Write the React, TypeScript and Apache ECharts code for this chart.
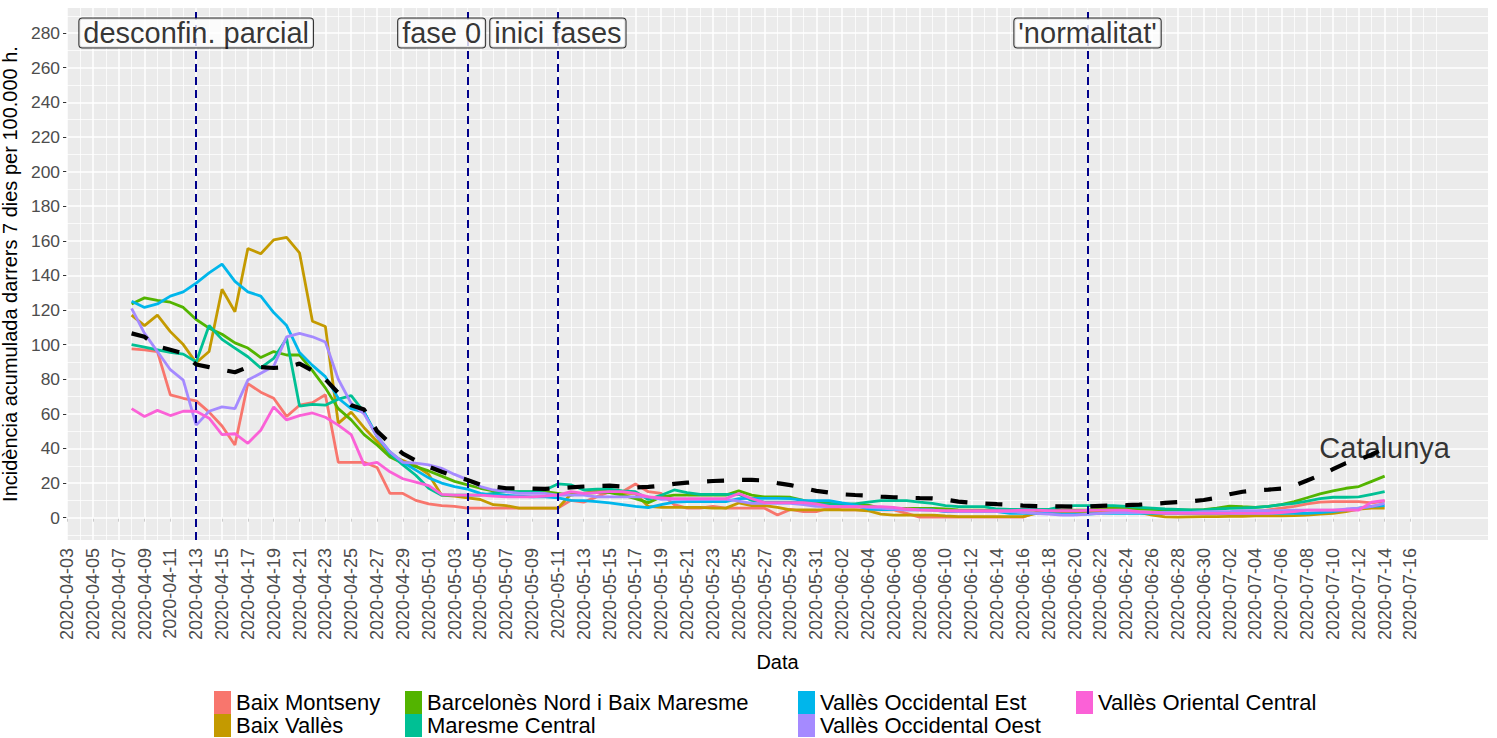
import React, { useEffect, useRef } from 'react';
import * as echarts from 'echarts';

const FONT = "'Liberation Sans', Arial, Helvetica, sans-serif";

// x axis: daily categories from 2020-04-03 to 2020-07-22 (panel range)
const AXIS_START = '2020-04-03';
const AXIS_DAYS = 111;
const DATA_START = '2020-04-08';
const LAST_LABEL_DATE = '2020-07-16';

function makeDates(start: string, n: number): string[] {
  const [y, m, d] = start.split('-').map(Number);
  const out: string[] = [];
  for (let i = 0; i < n; i++) {
    out.push(new Date(Date.UTC(y, m - 1, d + i)).toISOString().slice(0, 10));
  }
  return out;
}
const axisDates = makeDates(AXIS_START, AXIS_DAYS);

const seriesNames = [
  'Baix Montseny',
  'Baix Vallès',
  'Barcelonès Nord i Baix Maresme',
  'Maresme Central',
  'Vallès Occidental Est',
  'Vallès Occidental Oest',
  'Vallès Oriental Central',
];
const seriesColors = ['#F8766D', '#C49A00', '#53B400', '#00C094', '#00B6EB', '#A58AFF', '#FB61D7'];

// values from 2020-04-08 to 2020-07-14 (98 days)
const baixMontseny = [
  97.5, 97, 96, 71, 69, 67.5, 61, 53, 42, 77.5,
  72.5, 69, 58.5, 65, 66.5, 71, 32, 32, 32, 29,
  14, 14, 10, 8, 7, 6.5, 5.5, 5.5, 5.5, 5.5,
  5.5, 5.5, 5.5, 5.5, 10, 9, 12, 15, 15, 19.5,
  15, 14, 7.5, 5.5, 5.5, 6.5, 5.5, 5.5, 5.5, 5.5,
  1.5, 4.8, 3.5, 3.5, 5.5, 4.5, 4.5, 4.5, 4.5, 4.5,
  2.5, 0.3, 0.3, 0.3, 0.3, 0.3, 0.3, 0.3, 0.3, 0.3,
  3, 3, 3, 3, 3, 3.2, 3.5, 3.5, 3, 2.5,
  2.5, 2.5, 2.5, 2.5, 2.5, 3, 3, 3.5, 4.5, 5.5,
  6.5, 8, 9, 9.3, 9.3, 9.3, 8.5, 9.5,
];
const baixValles = [
  117, 111, 117, 107.5, 100, 89.5, 96, 132, 119, 155.5,
  152.5, 160.5, 162, 153, 113.5, 110.5, 54.5, 61, 52, 44,
  36, 33, 30, 25, 13, 12.5, 11.5, 10.5, 7.5, 7,
  5.5, 5.5, 5.5, 5.5, 13.5, 14, 15.5, 16.5, 14, 14,
  6.5, 6, 6, 6, 6, 5.5, 5.5, 8.5, 7, 7,
  6, 4.5, 4.5, 4.5, 4.5, 4.5, 4.5, 4, 2, 1.5,
  1.5, 1.5, 1.5, 1, 0.6, 0.6, 0.6, 0.6, 0.6, 0.6,
  2.5, 3, 3, 3, 3, 3, 3, 3, 3, 1.5,
  0.5, 0.3, 0.5, 0.6, 0.6, 0.8, 0.8, 1, 1, 1,
  1.2, 1.5, 2, 2.5, 3.5, 5, 5.5, 5.5,
];
const barcelonesNord = [
  123.5, 127, 125.5, 124.5, 121.5, 114.5, 109.5, 106, 101, 98,
  92.5, 96, 94, 94, 85, 75, 63, 56.5, 48, 42,
  35, 31.5, 29.5, 27, 24, 21, 19, 17, 15.5, 15,
  15, 15, 15, 14, 13, 14, 14.5, 14.5, 13, 11,
  8.7, 12, 13, 13, 13, 13, 13, 15.5, 13, 12,
  12, 11.8, 10, 8.5, 8.3, 7.5, 7.3, 7.3, 5.5, 5.4,
  5.4, 5.4, 5.4, 5, 4.5, 4.4, 4.4, 4.4, 4.4, 4.4,
  4.4, 4.4, 4.4, 4.4, 4.4, 5, 5.5, 5.5, 5, 4.8,
  4.5, 4.5, 4.4, 4.6, 5.5, 6.7, 6.3, 6, 6.5, 7.5,
  9.3, 11.5, 13.7, 15.5, 17, 18, 21, 24,
];
const maresmeCentral = [
  100, 98.5, 97, 95.5, 94.5, 90, 111, 103, 98, 93,
  86.5, 92, 103.5, 64.5, 65.5, 65, 68.5, 70.5, 61, 47,
  37, 30.5, 24.5, 17, 13, 13, 13, 13, 14, 15,
  15, 15, 16, 19.5, 19, 16, 16.5, 16.5, 15.5, 15,
  10.5, 13, 16, 14.5, 13.5, 13.5, 13.5, 13.5, 10, 9,
  9, 9, 8.5, 8, 8, 8, 8, 9, 9.8, 9.8,
  9.8, 9, 8.3, 7, 6.4, 6.4, 6.4, 5, 4.8, 4.8,
  4.8, 4.8, 6.4, 7, 7, 7, 7, 6.5, 6, 5.5,
  5, 4.8, 4.5, 4.5, 5, 5.4, 5.6, 6, 6.5, 7.5,
  8.3, 9.5, 11, 11.8, 11.8, 12, 13.5, 15,
];
const vallesOccEst = [
  125, 121.5, 123.5, 128, 130.5, 135.5, 141.5, 146.5, 136.5, 130.5,
  128, 118.5, 111, 95.5, 88, 81.5, 69, 63, 61, 47,
  38, 32, 27.5, 23, 20, 18, 16.5, 14, 13, 13,
  12.5, 12, 12, 11.5, 10, 9.8, 9.3, 8.5, 7.5, 6.5,
  5.8, 7.5, 9, 9.3, 9.3, 9.3, 9.3, 11, 11.2, 11.2,
  11.2, 11, 10, 9.8, 9.8, 8.5, 7.3, 5, 4.6, 4.6,
  4.6, 4.6, 4.5, 3.5, 3.5, 3.5, 3.5, 3.5, 2.5, 2.5,
  2.5, 2.5, 2, 2, 2, 2.5, 2.5, 2.5, 2.5, 2.5,
  2.5, 2.5, 2.5, 2.5, 2.5, 2.5, 2.5, 2.5, 2.5, 2.5,
  2.5, 2.5, 3, 3.5, 4.5, 5.5, 6.5, 7,
];
const vallesOccOest = [
  121, 106.5, 96, 85.5, 79.5, 53.5, 61.5, 64, 63, 79.5,
  83.5, 87.5, 104.5, 106.5, 104.5, 101.5, 80, 66, 60, 47,
  38, 32, 31.5, 30.5, 28.5, 25, 22, 18, 16, 15,
  14, 14, 14, 13, 13, 13, 12, 12, 12, 12,
  12, 10.6, 10.6, 10.6, 10.6, 10.6, 10.6, 9.5, 8.3, 8.3,
  8.3, 8.3, 7.5, 6.5, 6.4, 6.4, 6.4, 6, 5.5, 5,
  4.4, 4.4, 4.4, 3.8, 3.5, 3.5, 3.5, 3.5, 3.5, 3,
  2.5, 2, 1.5, 1.5, 2, 2.5, 3, 3, 3, 3,
  3, 3, 3, 3.5, 3.5, 3.5, 4, 4, 4, 4,
  4.4, 4.4, 4.4, 4.4, 5, 5.5, 6.5, 8.3,
];
const vallesOrCentral = [
  63, 58.5, 62, 59, 61.5, 61.5, 57.5, 48, 48.5, 43,
  50.5, 64, 56.5, 59, 60.5, 58, 53.5, 48, 30.5, 32,
  26.5, 22.5, 20.5, 18.5, 13.5, 13, 13, 13, 12.5, 12,
  12, 12, 12.5, 13, 15, 14, 14.5, 15, 15, 14,
  12, 11.5, 11, 11, 11, 11, 11, 14, 11, 8.7,
  8.7, 8.7, 8.7, 8, 6.5, 6.4, 6.4, 6.4, 6.4, 6,
  5, 4.5, 4.2, 4, 4, 4, 4, 4, 4, 4.4,
  4.4, 4, 4, 4, 4.2, 4.4, 4.4, 4.4, 3.5, 3,
  2.5, 2.5, 2.5, 2.5, 2.5, 2.5, 2.5, 2.5, 2.5, 3,
  3.5, 4.4, 4.4, 4.4, 4.4, 4.4, 9, 10,
];
const catalunya = [
  106.5, 104.5, 99, 97, 95, 88.5, 87, 85.5, 84, 87,
  87, 86.5, 87, 89, 85, 80, 72, 65, 62.5, 50,
  43, 37, 33, 29.5, 26.5, 24, 21.8, 19, 18, 17,
  17, 16.8, 16.6, 17, 17.5, 18, 18.3, 18.5, 18, 17.5,
  17.8, 18.5, 19.5, 20.2, 20.8, 21.2, 21.5, 21.8, 21.8, 21.5,
  20, 18.8, 17.2, 15.5, 14.5, 13.5, 13.1, 12.8, 12.2, 11.8,
  11.5, 11.3, 11.1, 10.5, 9.3, 8.7, 8.2, 7.8, 7.5, 7,
  6.7, 6.6, 6.5, 6.4, 6.5, 6.8, 7, 7.2, 7.5, 8,
  8.5, 9, 9.5, 10.2, 11.5, 13.5, 15, 15.8, 16.2, 16.8,
  18.5, 21.5, 24.5, 28, 31.5, 33.5, 36.5, 40,
];
const regionValues = [
  baixMontseny, baixValles, barcelonesNord, maresmeCentral,
  vallesOccEst, vallesOccOest, vallesOrCentral,
];

const yTickValues = [0, 20, 40, 60, 80, 100, 120, 140, 160, 180, 200, 220, 240, 260, 280];
const yMinorValues = [-10, 10, 30, 50, 70, 90, 110, 130, 150, 170, 190, 210, 230, 250, 270, 290];

const eventDates = ['2020-04-13', '2020-05-04', '2020-05-11', '2020-06-21'];
const labelDates = ['2020-04-13', '2020-05-02', '2020-05-11', '2020-06-21'];
const labelTexts = ['desconfin. parcial', 'fase 0', 'inici fases', "'normalitat'"];
const labelLevel = 280;
const catalunyaLabel = { date: '2020-07-14', value: 40, text: 'Catalunya' };

const legendColumns = [
  ['Baix Montseny', 'Baix Vallès'],
  ['Barcelonès Nord i Baix Maresme', 'Maresme Central'],
  ['Vallès Occidental Est', 'Vallès Occidental Oest'],
  ['Vallès Oriental Central'],
];
const legendLefts = [214, 405, 798, 1076];

function buildOption() {
  const dataStartIdx = axisDates.indexOf(DATA_START);
  const lastLabelIdx = axisDates.indexOf(LAST_LABEL_DATE);
  const toPairs = (vals: number[]) => vals.map((v, i) => [axisDates[dataStartIdx + i], v]);
  const isMajor = (i: number) => i % 2 === 0 && i <= lastLabelIdx;

  const gridLines: any[] = [];
  yTickValues.forEach((v) => gridLines.push({ yAxis: v, lineStyle: { width: 1.5 } }));
  yMinorValues.forEach((v) => gridLines.push({ yAxis: v, lineStyle: { width: 0.75 } }));
  axisDates.forEach((d, i) => {
    if (i > lastLabelIdx + 2) return;
    gridLines.push({ xAxis: d, lineStyle: { width: isMajor(i) ? 1.5 : 0.75 } });
  });

  const series: any[] = [
    {
      type: 'line',
      name: '__grid',
      data: [],
      z: 1,
      silent: true,
      markLine: {
        z: 1,
        silent: true,
        symbol: ['none', 'none'],
        label: { show: false },
        emphasis: { disabled: true },
        lineStyle: { color: '#FFFFFF', type: 'solid' },
        data: gridLines,
      },
    },
  ];

  regionValues.forEach((vals, k) => {
    series.push({
      type: 'line',
      name: seriesNames[k],
      data: toPairs(vals),
      z: 2,
      symbol: 'none',
      showSymbol: false,
      silent: true,
      color: seriesColors[k],
      itemStyle: { color: seriesColors[k] },
      lineStyle: { color: seriesColors[k], width: 2.8 },
      emphasis: { disabled: true },
    });
  });

  series.push({
    type: 'line',
    name: '__events',
    data: [],
    z: 3,
    silent: true,
    markLine: {
      z: 3,
      silent: true,
      symbol: ['none', 'none'],
      label: { show: false },
      emphasis: { disabled: true },
      lineStyle: { color: '#00008B', width: 2, type: [8, 5] },
      data: eventDates.map((d) => ({ xAxis: d })),
    },
  });

  series.push({
    type: 'line',
    name: 'Catalunya',
    data: toPairs(catalunya),
    z: 4,
    symbol: 'none',
    showSymbol: false,
    silent: true,
    lineStyle: { color: '#000000', width: 4.2, type: [17, 18] },
    emphasis: { disabled: true },
  });

  series.push({
    type: 'scatter',
    name: '__labels',
    z: 6,
    silent: true,
    symbol: 'rect',
    symbolSize: 1,
    itemStyle: { color: 'rgba(0,0,0,0)' },
    emphasis: { disabled: true },
    label: {
      show: true,
      position: 'inside',
      fontFamily: FONT,
      fontSize: 29,
      color: '#000000',
      backgroundColor: '#FFFFFF',
      borderColor: '#000000',
      borderWidth: 1,
      borderRadius: 3,
      padding: [1, 4, 0, 4],
      lineHeight: 28,
    },
    data: [
      ...labelDates.map((d, i) => ({ value: [d, labelLevel], label: { formatter: labelTexts[i] } })),
      {
        value: [catalunyaLabel.date, catalunyaLabel.value],
        label: {
          formatter: catalunyaLabel.text,
          backgroundColor: 'transparent',
          borderWidth: 0,
        },
      },
    ],
  });

  const legends = legendColumns.map((names, i) => ({
    data: names.map((n) => ({ name: n, icon: 'rect' })),
    orient: 'vertical',
    left: legendLefts[i],
    top: 691,
    width: 400,
    height: 80,
    padding: 0,
    itemWidth: 17,
    itemHeight: 23,
    itemGap: 0,
    selectedMode: false,
    textStyle: { fontFamily: FONT, fontSize: 22, color: '#000', lineHeight: 23 },
  }));

  return {
    animation: false,
    backgroundColor: '#FFFFFF',
    textStyle: { fontFamily: FONT },
    grid: {
      left: 67,
      right: 9,
      top: 8,
      bottom: 198,
      show: true,
      backgroundColor: '#EBEBEB',
      borderWidth: 0,
      containLabel: false,
      outerBoundsMode: 'none',
    },
    legend: legends,
    xAxis: {
      type: 'category',
      data: axisDates,
      boundaryGap: false,
      axisLine: { show: false },
      axisTick: {
        show: true,
        length: 4,
        interval: (i: number) => isMajor(i),
        lineStyle: { color: '#333333', width: 1 },
      },
      axisLabel: {
        rotate: 90,
        interval: (i: number) => isMajor(i),
        color: '#4D4D4D',
        fontSize: 18,
        fontFamily: FONT,
        margin: 8,
      },
      splitLine: { show: false },
      name: 'Data',
      nameLocation: 'middle',
      nameGap: 112,
      nameTextStyle: { fontSize: 20, color: '#000', fontFamily: FONT },
    },
    yAxis: {
      type: 'value',
      min: -12.9,
      max: 294.5,
      axisLine: { show: false },
      axisTick: {
        show: true,
        length: 4,
        customValues: yTickValues,
        lineStyle: { color: '#333333', width: 1 },
      },
      axisLabel: {
        customValues: yTickValues,
        color: '#4D4D4D',
        fontSize: 17.4,
        fontFamily: FONT,
        margin: 7,
      },
      splitLine: { show: false },
      minorSplitLine: { show: false },
      name: 'Incidència acumulada darrers 7 dies per 100.000 h.',
      nameLocation: 'middle',
      nameGap: 44,
      nameTextStyle: { fontSize: 20, color: '#000', fontFamily: FONT },
    },
    series,
  };
}

export default function App() {
  const ref = useRef<HTMLDivElement>(null);
  useEffect(() => {
    if (!ref.current) return;
    const chart = echarts.init(ref.current, undefined, { renderer: 'svg' });
    chart.setOption(buildOption() as any);
    return () => chart.dispose();
  }, []);
  return (
    <div
      ref={ref}
      style={{ position: 'fixed', left: 0, top: 0, width: '1497px', height: '738px', background: '#fff' }}
    />
  );
}
